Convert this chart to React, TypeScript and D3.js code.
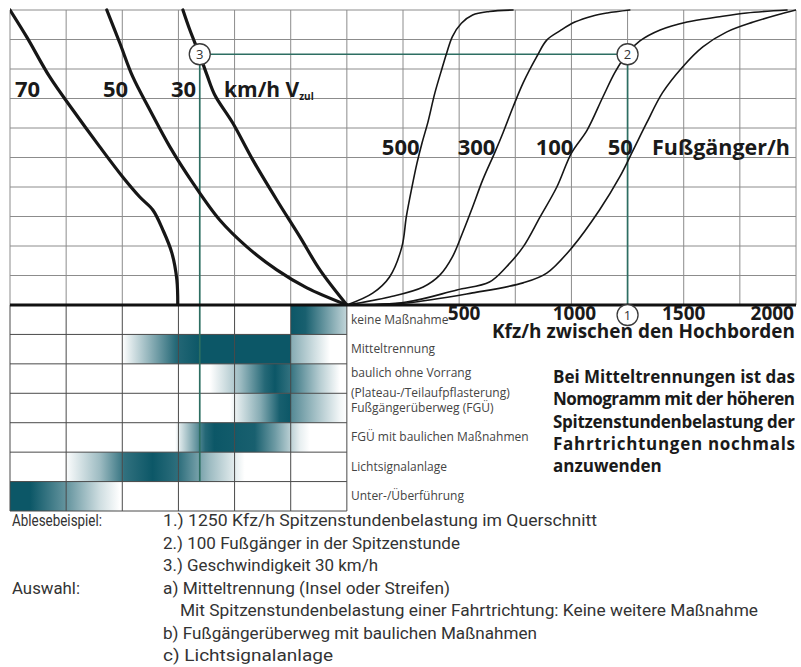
import React from 'react';
import * as d3 from 'd3';

type Pt = [number, number];

// x: Kfz/h between the kerbs (right half); the left half continues the same
// raster leftwards (one column = 250). y: abstract nomogram level 0..10.
const kfzTicks = [500, 1000, 1500, 2000];

const speedNames = ['70', '50', '30'];
const speed70: Pt[] = [[-1500, 10], [-1425, 9.08], [-1323, 7.73], [-1220, 6.61], [-1100, 5.36], [-998, 4.34], [-922, 3.66], [-864, 3.22], [-819, 2.54], [-779, 1.76], [-757, 0.85], [-753, 0]];
const speed50: Pt[] = [[-1069, 10], [-1011, 8.88], [-953, 7.73], [-877, 6.61], [-788, 5.36], [-686, 4.14], [-566, 2.88], [-445, 1.97], [-312, 1.19], [-178, 0.58], [0, 0]];
const speed30: Pt[] = [[-730, 10], [-699, 9.32], [-655, 8.47], [-623, 7.8], [-588, 7.12], [-508, 6.17], [-419, 4.92], [-312, 3.56], [-209, 2.31], [-120, 1.19], [0, 0]];

const pedNames = ['500', '300', '100', '50'];
const ped500: Pt[] = [[0, 0], [115, 0.4], [190, 0.95], [245, 1.97], [265, 3], [290, 4], [312, 4.8], [335, 5.5], [361, 6.2], [392, 7.19], [425, 8.05], [445, 8.55], [470, 9.1], [510, 9.55], [560, 9.83], [635, 9.95], [740, 10]];
const ped300: Pt[] = [[0, 0], [190, 0.27], [340, 0.61], [415, 1.02], [470, 1.63], [515, 2.44], [560, 3.32], [605, 4.24], [660, 5.19], [695, 5.83], [740, 6.71], [785, 7.53], [845, 8.41], [890, 8.98], [950, 9.3], [1015, 9.59], [1095, 9.8], [1160, 9.9], [1260, 10]];
const ped100: Pt[] = [[0, 0], [265, 0.1], [490, 0.51], [635, 0.78], [710, 1.29], [785, 1.97], [860, 2.98], [935, 4], [1000, 5.15], [1070, 5.93], [1140, 7.05], [1195, 7.9], [1250, 8.54], [1305, 8.95], [1395, 9.32], [1515, 9.59], [1650, 9.76], [1780, 9.9], [1960, 10]];
const ped50: Pt[] = [[0, 0], [265, 0.07], [560, 0.41], [785, 0.75], [890, 1.08], [1005, 1.97], [1125, 3.22], [1215, 4.34], [1275, 5.25], [1335, 6.17], [1405, 7.19], [1495, 8.07], [1585, 8.75], [1690, 9.25], [1810, 9.59], [1915, 9.83], [2000, 10]];

const measures = [
  ['keine Maßnahme'],
  ['Mitteltrennung'],
  ['baulich ohne Vorrang', '(Plateau-/Teilaufpflasterung)'],
  ['Fußgängerüberweg (FGÜ)'],
  ['FGÜ mit baulichen Maßnahmen'],
  ['Lichtsignalanlage'],
  ['Unter-/Überführung'],
];
// shading of each measure row: [x on the left raster, intensity]
const measureBands: Pt[][] = [
  [[-1500, 0], [-250, 0], [-250, 1], [-185, 0.95], [0, 0.25]],
  [[-1500, 0], [-1000, 0], [-760, 0.9], [-655, 1], [-255, 1], [-250, 0.85], [-248, 0.5], [-75, 0], [0, 0]],
  [[-1500, 0], [-610, 0], [-475, 0.4], [-365, 0.9], [-320, 1], [-255, 0.85], [-120, 0.3], [-30, 0], [0, 0]],
  [[-1500, 0], [-520, 0], [-385, 0.5], [-300, 0.95], [-250, 1], [-248, 0.7], [-30, 0.05], [0, 0]],
  [[-1500, 0], [-765, 0], [-630, 0.9], [-590, 1], [-410, 0.95], [-320, 0.6], [-210, 0.1], [-165, 0], [0, 0]],
  [[-1500, 0], [-1255, 0], [-1100, 0.4], [-990, 0.85], [-865, 1], [-745, 0.85], [-610, 0.4], [-455, 0], [0, 0]],
  [[-1500, 1], [-1410, 1], [-1235, 0.6], [-1100, 0.2], [-1010, 0], [0, 0]],
];

// reading example: 1250 Kfz/h, 100 Fußgänger/h, 30 km/h
const exampleKfz = 1250;
const exampleLevel = 8.5;
const exampleSpeedX = -655;
const exampleDownToRow = 6;

const noteLines = ['Bei Mitteltrennungen ist das', 'Nomogramm mit der höheren', 'Spitzenstundenbelastung der', 'Fahrtrichtungen nochmals', 'anzuwenden'];

const readingHeads = ['Ablesebeispiel:', '', '', 'Auswahl:', '', '', ''];
const readingLines = [
  '1.) 1250 Kfz/h Spitzenstundenbelastung im Querschnitt',
  '2.) 100 Fußgänger in der Spitzenstunde',
  '3.) Geschwindigkeit 30 km/h',
  'a) Mitteltrennung (Insel oder Streifen)',
  'Mit Spitzenstundenbelastung einer Fahrtrichtung: Keine weitere Maßnahme',
  'b) Fußgängerüberweg mit baulichen Maßnahmen',
  'c) Lichtsignalanlage',
];
const readingWidths = [434, 297, 215, 287, 578, 374, 170];
const headWidths = [90, 0, 0, 68];

const W = 801;
const H = 667;
const TEAL = '#0c5767';
const GREEN = '#2d6e62';
const BOLD = "'Open Sans', 'Noto Sans', sans-serif";
const NARROW = "Roboto, 'Noto Sans', sans-serif";

function xAtLevel(curve: Pt[], lv: number) {
  for (let i = 1; i < curve.length; i++) {
    const [x0, y0] = curve[i - 1];
    const [x1, y1] = curve[i];
    if ((y0 - lv) * (y1 - lv) <= 0 && y1 !== y0) return x0 + ((lv - y0) / (y1 - y0)) * (x1 - x0);
  }
  return curve[0][0];
}

export default function App() {
  const x = d3.scaleLinear().domain([-1500, 2000]).range([10, 796]);
  const y = d3.scaleLinear().domain([0, 10]).range([305, 10]);
  const rows = d3.scaleLinear().domain([0, 7]).range([305, 511]);
  const rowH = rows(1) - rows(0);

  const line = d3.line<Pt>().x(d => x(d[0])).y(d => y(d[1])).curve(d3.curveCatmullRom.alpha(0.5));

  const cols = d3.range(-1500, 2001, 250);
  const leftCols = d3.range(-1500, 1, 250);
  const lvls = d3.range(0, 11);

  const speeds = [speed70, speed50, speed30];
  const peds = [ped500, ped300, ped100, ped50];
  const speedLabelX = [15, 103, 171];

  const bandX0 = x(-1500);
  const bandW = x(0) - x(-1500);

  const cx = x(exampleKfz);
  const cy = y(exampleLevel);
  const sx = x(exampleSpeedX);

  const circle = (px: number, py: number, n: string) => (
    <g key={n}>
      <circle cx={px} cy={py} r={10.5} fill="#fff" stroke="#3a3a3a" strokeWidth={1.3} />
      <text x={px} y={py} dy="0.36em" textAnchor="middle" fontSize={13} fill="#333" fontFamily={BOLD}>{n}</text>
    </g>
  );

  return (
    <svg width={W} height={H} style={{ position: 'absolute', left: 0, top: 0, background: '#fff' }}>
      <defs>
        <clipPath id="upper">
          <rect x={x(-1500)} y={y(10) - 2} width={x(2000) - x(-1500)} height={y(0) - y(10) + 2} />
        </clipPath>
        {measureBands.map((band, i) => (
          <linearGradient key={i} id={`band${i}`} gradientUnits="userSpaceOnUse" x1={bandX0} x2={bandX0 + bandW} y1={0} y2={0}>
            {band.map(([u, v], j) => (
              <stop key={j} offset={(x(u) - bandX0) / bandW} stopColor={TEAL} stopOpacity={v} />
            ))}
          </linearGradient>
        ))}
      </defs>

      {/* measure shading */}
      {measureBands.map((_, i) => (
        <rect key={i} x={bandX0} y={rows(i)} width={bandW} height={rowH} fill={`url(#band${i})`} />
      ))}

      {/* upper grid */}
      <g stroke="#8c8c8c" strokeWidth={1}>
        {cols.map(c => <line key={c} x1={x(c)} x2={x(c)} y1={y(10)} y2={y(0)} />)}
        {lvls.map(l => <line key={l} x1={x(-1500)} x2={x(2000)} y1={y(l)} y2={y(l)} />)}
      </g>
      {/* lower grid */}
      <g stroke="#4a4a4a" strokeWidth={1}>
        {leftCols.map(c => <line key={c} x1={x(c)} x2={x(c)} y1={rows(0)} y2={rows(7)} />)}
        {d3.range(1, 8).map(r => <line key={r} x1={x(-1500)} x2={x(0)} y1={rows(r)} y2={rows(r)} />)}
      </g>

      {/* example reading */}
      <g stroke={GREEN} strokeWidth={1.7} fill="none">
        <line x1={sx} x2={cx} y1={cy} y2={cy} />
        <line x1={sx} x2={sx} y1={cy} y2={rows(exampleDownToRow)} />
        <line x1={cx} x2={cx} y1={cy} y2={y(0)} />
      </g>

      {/* curves */}
      <g clipPath="url(#upper)" fill="none" stroke="#161616" strokeLinecap="round">
        {peds.map((c, i) => <path key={i} d={line(c) || ''} strokeWidth={1.6} />)}
        {speeds.map((c, i) => <path key={i} d={line(c) || ''} strokeWidth={3.2} />)}
      </g>

      <line x1={x(-1500)} x2={x(2000)} y1={y(0)} y2={y(0)} stroke="#111" strokeWidth={2.8} />

      {circle(sx, cy, '3')}
      {circle(cx, cy, '2')}
      {circle(cx, y(0) + 10, '1')}

      {/* speed labels */}
      <g fontFamily={BOLD} fontWeight={700} fontSize={22} fill="#1a1a1a">
        {speedNames.map((n, i) => <text key={n} x={speedLabelX[i]} y={97}>{n}</text>)}
        <text x={224} y={97} fontSize={21}>km/h V<tspan fontSize={10} dy={3}>zul</tspan></text>
      </g>

      {/* pedestrian labels */}
      <g fontFamily={BOLD} fontWeight={700} fontSize={22} fill="#1a1a1a">
        {pedNames.map((n, i) => (
          <text key={n} x={x(xAtLevel(peds[i], 5.3)) - 1} y={155} textAnchor="end">{n}</text>
        ))}
        <text x={652} y={155} textLength={138} lengthAdjust="spacingAndGlyphs">Fußgänger/h</text>
      </g>

      {/* Kfz axis */}
      <g fontFamily={BOLD} fontWeight={700} fill="#1a1a1a">
        {kfzTicks.map((t, i) => (
          <text key={t} x={i === kfzTicks.length - 1 ? x(t) - 2 : x(t) + (i === 0 ? 5 : i === 1 ? 3 : 0)} y={320} fontSize={19}
            textAnchor={i === kfzTicks.length - 1 ? 'end' : 'middle'}>{t}</text>
        ))}
        <text x={795} y={338} fontSize={19.5} textAnchor="end" textLength={303} lengthAdjust="spacingAndGlyphs">Kfz/h zwischen den Hochborden</text>
      </g>

      {/* measure labels */}
      <g fontFamily={BOLD} fontSize={12} fill="#444">
        {measures.map((m, i) =>
          m.length === 1 ? (
            <text key={i} x={351} y={rows(i) + rowH / 2 + 4}>{m[0]}</text>
          ) : (
            <g key={i}>
              <text x={351} y={rows(i) + 13}>{m[0]}</text>
              <text x={351} y={rows(i) + rowH + 4}>{m[1]}</text>
            </g>
          )
        )}
      </g>

      {/* note */}
      <g fontFamily={BOLD} fontWeight={700} fontSize={17} fill="#1a1a1a">
        {noteLines.map((t, i) => (
          <text key={i} x={553} y={383 + i * 22.3}
            {...(i < noteLines.length - 1 ? { textLength: 242, lengthAdjust: 'spacing' } : {})}>{t}</text>
        ))}
      </g>

      {/* reading example text */}
      <g fontFamily={NARROW} fontSize={16.5} fill="#333">
        {readingLines.map((t, i) => (
          <g key={i}>
            {readingHeads[i] && (
              <text x={12} y={526 + i * 22.5} textLength={headWidths[i]} lengthAdjust="spacingAndGlyphs">{readingHeads[i]}</text>
            )}
            <text x={i === 4 ? 180 : 163} y={526 + i * 22.5} textLength={readingWidths[i]} lengthAdjust="spacingAndGlyphs">{t}</text>
          </g>
        ))}
      </g>
    </svg>
  );
}
